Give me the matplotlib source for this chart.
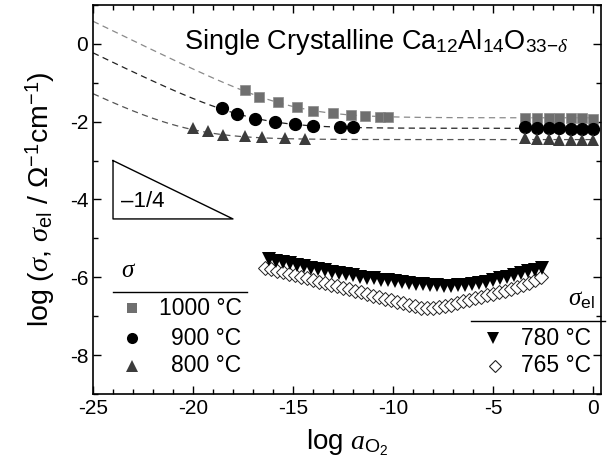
import numpy as np
import matplotlib
matplotlib.use("Agg")
import matplotlib.pyplot as plt

plt.rcParams["font.family"] = ["Liberation Sans", "DejaVu Sans"]
plt.rcParams["mathtext.fontset"] = "custom"
plt.rcParams["mathtext.rm"] = "Liberation Sans"
plt.rcParams["mathtext.it"] = "Liberation Serif:italic"
plt.rcParams["axes.unicode_minus"] = False

# total conductivity, log sigma vs log a_O2
x_1000 = [-17.4, -16.7, -15.75, -14.8, -14.0, -13.0, -12.1, -11.4, -10.65, -10.25,
          -3.4, -2.8, -2.2, -1.7, -1.1, -0.55, 0.0]
y_1000 = [-1.19, -1.36, -1.49, -1.62, -1.72, -1.77, -1.84, -1.85, -1.89, -1.89,
          -1.90, -1.90, -1.90, -1.90, -1.91, -1.91, -1.93]
x_900 = [-18.53, -17.8, -16.9, -15.9, -14.9, -13.98, -12.65, -11.98,
         -3.4, -2.8, -2.2, -1.7, -1.1, -0.55, 0.0]
y_900 = [-1.66, -1.79, -1.92, -2.02, -2.07, -2.10, -2.13, -2.13,
         -2.13, -2.15, -2.15, -2.17, -2.18, -2.18, -2.20]
x_800 = [-19.99, -19.24, -18.49, -17.4, -16.57, -15.4, -14.4,
         -3.4, -2.8, -2.2, -1.7, -1.1, -0.55, 0.0]
y_800 = [-2.17, -2.25, -2.34, -2.38, -2.39, -2.42, -2.45,
         -2.42, -2.45, -2.45, -2.46, -2.47, -2.47, -2.47]

# fit: log(sigma_ion + A * a^(-1/4)) -> (plateau, log A)
fit_1000 = (-1.90, -5.67)
fit_900 = (-2.17, -6.485)
fit_800 = (-2.46, -7.56)

# electronic conductivity
x_780 = [-16.2, -15.85, -15.5, -15.15, -14.8, -14.45, -14.1, -13.75, -13.4, -13.05,
         -12.7, -12.35, -12.0, -11.65, -11.3, -10.95, -10.6, -10.25, -9.9, -9.55,
         -9.2, -8.85, -8.5, -8.15, -7.8, -7.45, -7.1, -6.75, -6.4, -6.05,
         -5.7, -5.35, -5.0, -4.65, -4.3, -3.95, -3.6, -3.25, -2.9, -2.55]
y_780 = [-5.53, -5.57, -5.61, -5.64, -5.68, -5.72, -5.75, -5.79, -5.82, -5.86,
         -5.89, -5.92, -5.95, -5.98, -6.01, -6.03, -6.06, -6.08, -6.10, -6.12,
         -6.14, -6.16, -6.18, -6.20, -6.21, -6.22, -6.22, -6.21, -6.19, -6.17,
         -6.14, -6.11, -6.07, -6.03, -5.99, -5.95, -5.90, -5.85, -5.80, -5.76]
x_765 = [-16.4, -16.1, -15.8, -15.5, -15.2, -14.9, -14.6, -14.3, -14.0, -13.7,
         -13.4, -13.1, -12.8, -12.5, -12.2, -11.9, -11.6, -11.3, -11.0, -10.7,
         -10.4, -10.1, -9.8, -9.5, -9.2, -8.9, -8.6, -8.3, -8.0, -7.7,
         -7.4, -7.1, -6.8, -6.5, -6.2, -5.9, -5.6, -5.3, -5.0, -4.7,
         -4.4, -4.1, -3.8, -3.5, -3.2, -2.9, -2.6]
y_765 = [-5.75, -5.79, -5.83, -5.87, -5.91, -5.95, -5.99, -6.03, -6.07, -6.11,
         -6.15, -6.19, -6.23, -6.27, -6.31, -6.35, -6.39, -6.43, -6.47, -6.51,
         -6.55, -6.59, -6.63, -6.67, -6.71, -6.75, -6.78, -6.79, -6.78, -6.76,
         -6.73, -6.70, -6.66, -6.62, -6.58, -6.54, -6.50, -6.46, -6.42, -6.38,
         -6.34, -6.30, -6.26, -6.21, -6.15, -6.08, -6.00]

c_1000 = "#6f6f6f"
c_900 = "black"
c_800 = "#3c3c3c"

fig = plt.figure(figsize=(6.1, 4.7), dpi=100)
ax = fig.add_axes([0.1525, 0.1617, 0.8325, 0.8277])

xf = np.linspace(-25, 0, 300)
for (p, la), col in [(fit_1000, "#8a8a8a"), (fit_900, "#222222"), (fit_800, "#555555")]:
    yf = np.log10(10 ** p + 10 ** (la - xf / 4))
    ax.plot(xf, yf, ls=(0, (5, 3.5)), lw=0.9, color=col, zorder=1)

ax.plot(x_1000, y_1000, "s", ms=7, color=c_1000, mec="#8a8a8a", mew=0.5, zorder=3)
ax.plot(x_900, y_900, "o", ms=8.5, color=c_900, zorder=3)
ax.plot(x_800, y_800, "^", ms=8.5, color=c_800, mew=0, zorder=3)
ax.plot(x_765, y_765, "D", ms=7, mfc="white", mec="#222222", mew=0.7, zorder=3)
ax.plot(x_780, y_780, "v", ms=9.5, color="black", mew=0, zorder=4)

ax.set_xlim(-25, 0.4)
ax.set_ylim(-9, 1)
ax.set_xticks([-25, -20, -15, -10, -5, 0])
ax.set_xticks(np.arange(-25, 1, 1), minor=True)
ax.set_yticks([-8, -6, -4, -2, 0])
ax.set_yticks(np.arange(-9, 1.5, 1), minor=True)
ax.tick_params(which="both", direction="in", top=True, right=True, width=1.0,
               labelsize=15)
ax.tick_params(which="major", length=6)
ax.tick_params(which="minor", length=3.5)
for s in ax.spines.values():
    s.set_linewidth(1.2)

ax.set_xlabel(r"log $a_{\mathrm{O}_2}$", fontsize=20, labelpad=7)
ax.set_ylabel(r"log ($\sigma$, $\sigma_{\mathrm{el}}$ / $\Omega^{-1}$cm$^{-1}$)",
              fontsize=20.5, labelpad=9)

ax.text(-1.2, 0.05, r"Single Crystalline Ca$_{12}$Al$_{14}$O$_{33\mathrm{-}\delta}$",
        fontsize=19.5, ha="right", va="center")

# slope triangle
ax.plot([-24, -24, -18, -24], [-3, -4.5, -4.5, -3], color="black", lw=1.0)
ax.text(-23.6, -4.05, "\u20131/4", fontsize=16, ha="left", va="center")

# legend sigma
ax.text(-23.2, -5.82, r"$\sigma$", fontsize=18, ha="center", va="center")
ax.plot([-24.0, -17.3], [-6.37, -6.37], color="black", lw=1.0)
for yy, mk, col, lab in [(-6.8, "s", c_1000, "1000 \u00b0C"),
                         (-7.57, "o", c_900, "900 \u00b0C"),
                         (-8.27, "^", c_800, "800 \u00b0C")]:
    ax.plot([-23.07], [yy], mk, ms=8 if mk != "s" else 7, color=col, mew=0)
    ax.text(-17.57, yy, lab, fontsize=16.5, ha="right", va="center")

# legend sigma_el
ax.text(-0.6, -6.55, r"$\sigma_{\mathrm{el}}$", fontsize=18, ha="center", va="center")
ax.plot([-6.07, 0.6], [-7.13, -7.13], color="black", lw=1.0, clip_on=False)
ax.plot([-5.0], [-7.57], "v", ms=8, color="black", mew=0)
ax.text(-0.07, -7.57, "780 \u00b0C", fontsize=16.5, ha="right", va="center")
ax.plot([-4.9], [-8.28], "D", ms=6.5, mfc="white", mec="#222222", mew=0.8)
ax.text(-0.07, -8.28, "765 \u00b0C", fontsize=16.5, ha="right", va="center")

fig.savefig("out.png", dpi=100)
